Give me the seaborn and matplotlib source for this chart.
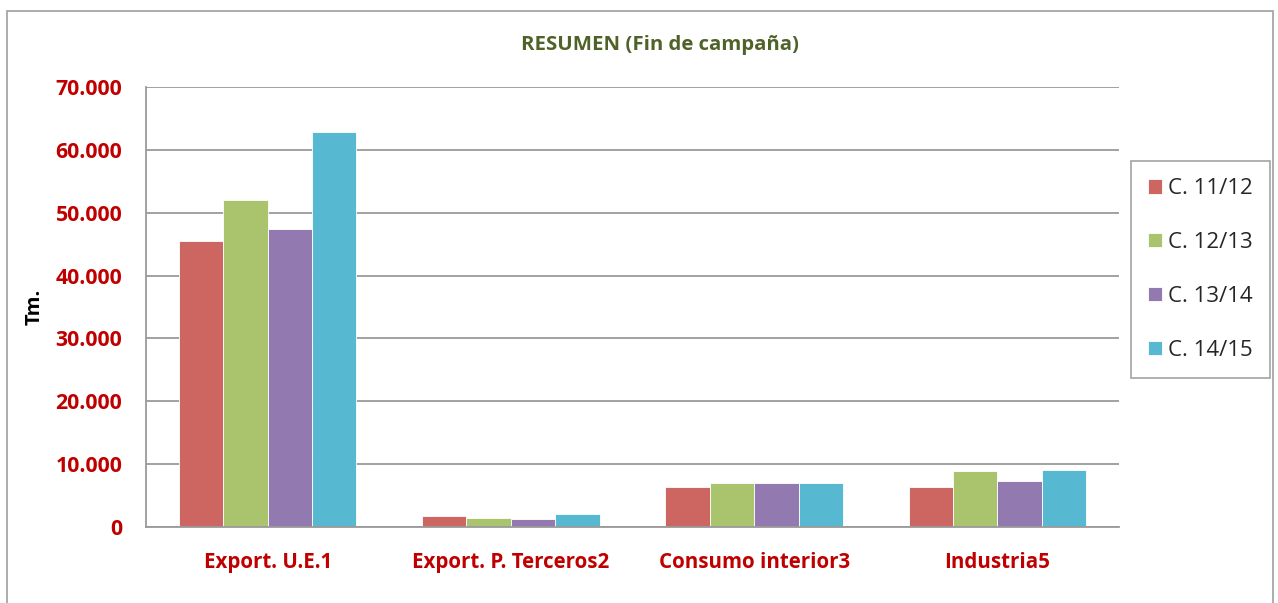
import pandas as pd
import seaborn as sns
import matplotlib.pyplot as plt
from matplotlib.patches import Rectangle
from matplotlib.ticker import FixedLocator

categories = ["Export. U.E.1", "Export. P. Terceros2", "Consumo interior3", "Industria5"]
seasons = ["C. 11/12", "C. 12/13", "C. 13/14", "C. 14/15"]
c1112 = [45500, 1700, 6400, 6300]
c1213 = [52000, 1500, 6950, 8900]
c1314 = [47400, 1200, 6950, 7300]
c1415 = [62800, 2100, 6950, 9000]
yticks = [0, 10000, 20000, 30000, 40000, 50000, 60000, 70000]
colors = ["#CD6660", "#A9C46C", "#927AB1", "#57B9D1"]

rows = []
for s, vals in zip(seasons, [c1112, c1213, c1314, c1415]):
    for c, v in zip(categories, vals):
        rows.append({"cat": c, "season": s, "tm": v})
df = pd.DataFrame(rows)

sns.set_style("white")
plt.rcParams["font.family"] = ["Open Sans", "DejaVu Sans"]

fig = plt.figure(figsize=(12.78, 6.03), dpi=100)
ax = fig.add_axes([146/1278, 76/603, 973/1278, 440/603])

sns.barplot(data=df, x="cat", y="tm", hue="season", order=categories, hue_order=seasons,
            palette=colors, width=0.73, gap=0, saturation=1, errorbar=None, ax=ax,
            edgecolor="white", linewidth=0.6, legend=True)

ax.set_ylim(0, 70000)
ax.set_xlim(-0.5, 3.5)
ax.set_yticks(yticks, labels=[f"{v:,}".replace(",", ".") for v in yticks],
              fontweight="bold", fontsize=15.3, color="#C00000")
ax.set_xticks(range(len(categories)), labels=categories,
              fontweight="bold", fontsize=14.8, color="#C00000")
ax.yaxis.grid(True, color="#9a9a9a", linewidth=1.3)
ax.set_axisbelow(True)
for sp in ["top", "right"]:
    ax.spines[sp].set_visible(False)
for sp in ["left", "bottom"]:
    ax.spines[sp].set_color("#9a9a9a")
    ax.spines[sp].set_linewidth(1.3)

ax.tick_params(axis="y", length=6, width=1.3, color="#9a9a9a", direction="out", pad=11)
ax.tick_params(axis="x", which="major", length=0, pad=18)
ax.xaxis.set_minor_locator(FixedLocator([-0.5, 0.5, 1.5, 2.5, 3.5]))
ax.tick_params(axis="x", which="minor", length=7, width=1.3, color="#9a9a9a", direction="out")

ax.set_xlabel("")
ax.set_ylabel("Tm.", fontsize=14.5, fontweight="bold", color="black", labelpad=8)
fig.text(660/1278, 1 - 45/603, "RESUMEN (Fin de campaña)", ha="center", va="center",
         fontsize=14.7, fontweight="bold", color="#4F6228")

handles, labels = ax.get_legend_handles_labels()
ax.get_legend().remove()
leg = fig.legend(handles, labels, loc="upper left",
                 bbox_to_anchor=(1131/1278, 1 - 161/603), bbox_transform=fig.transFigure,
                 frameon=True, fancybox=False, fontsize=16, handlelength=0.6, handleheight=0.6,
                 handletextpad=0.3, labelspacing=1.48, borderpad=0.78, borderaxespad=0)
leg.get_frame().set_edgecolor("#8c8c8c")
leg.get_frame().set_linewidth(1.2)

fig.patches.append(Rectangle((7/1278, -0.05), 1266/1278, 1.05 - 11/603, transform=fig.transFigure,
                             fill=False, edgecolor="#a6a6a6", linewidth=1.3))

fig.savefig("out.png", dpi=100)
